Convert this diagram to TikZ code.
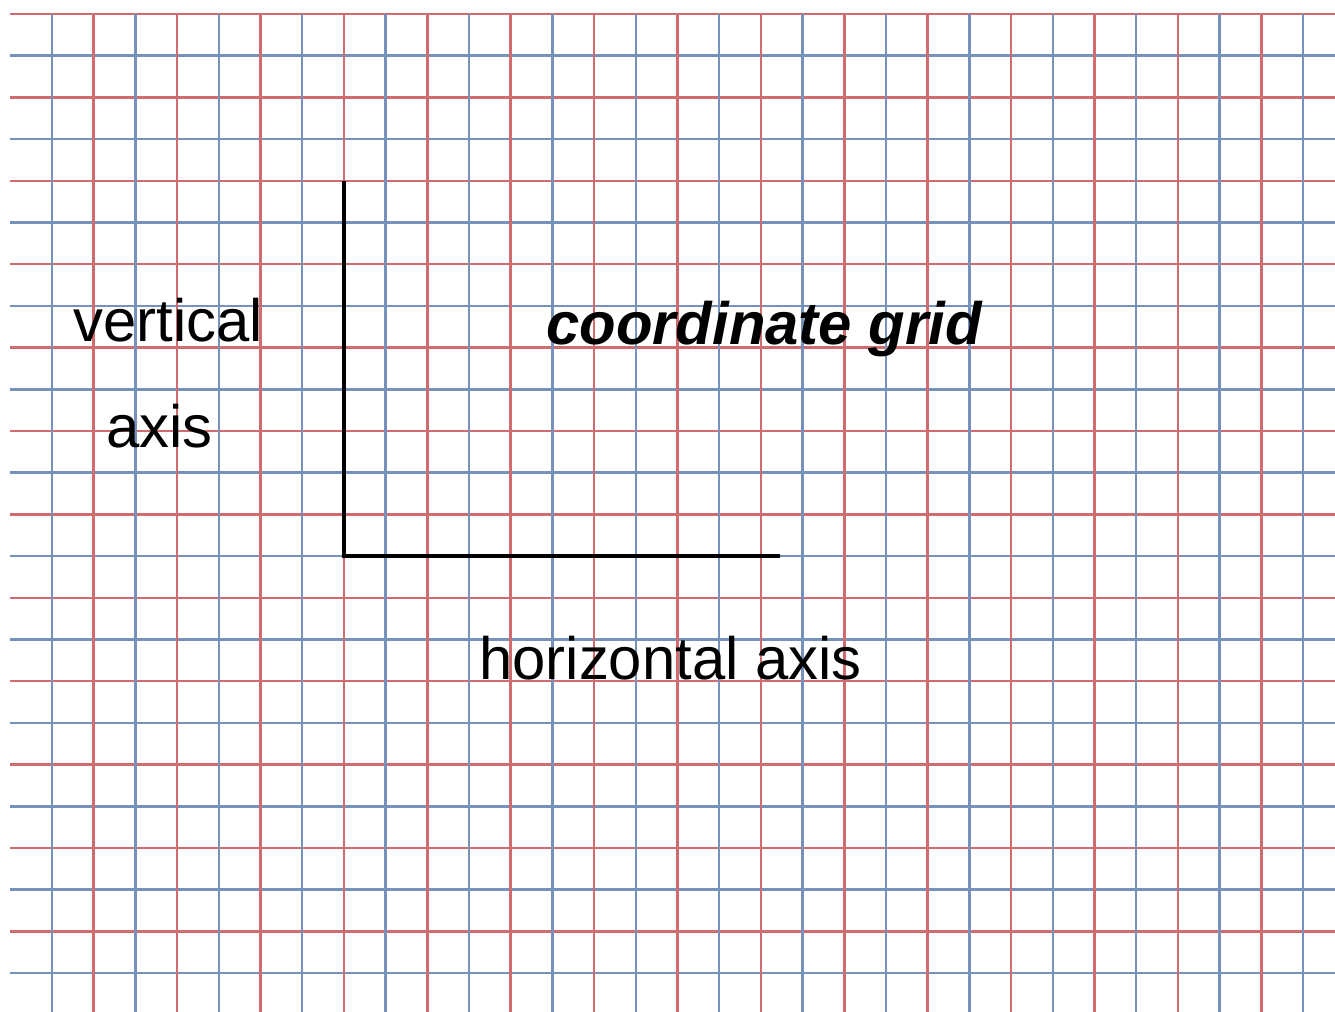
\documentclass[tikz,border=0pt]{standalone}
\usepackage{fontspec}
\setmainfont{Liberation Sans}
\definecolor{gridred}{RGB}{208,108,112}
\definecolor{gridblue}{RGB}{118,146,186}
\begin{document}
\begin{tikzpicture}[x=0.5pt,y=-0.5pt,
  redline/.style={draw=gridred,line width=1.25pt},
  blueline/.style={draw=gridblue,line width=1.25pt},
  axisline/.style={draw=black,line width=2.2pt},
  lbl/.style={inner sep=0pt,anchor=base west,font=\fontsize{29.9pt}{34pt}\selectfont}]
\useasboundingbox[fill=white] (0,0) rectangle (1335,1012);
% horizontal grid lines
\foreach \k in {0,...,23}{
  \pgfmathsetmacro{\yy}{14+41.7*\k}
  \ifodd\k
    \draw[blueline] (10,\yy) -- (1335,\yy);
  \else
    \draw[redline] (10,\yy) -- (1335,\yy);
  \fi
}
% vertical grid lines
\foreach \j in {0,...,30}{
  \pgfmathsetmacro{\xx}{52+41.7*\j}
  \ifodd\j
    \draw[redline] (\xx,14) -- (\xx,1012);
  \else
    \draw[blueline] (\xx,14) -- (\xx,1012);
  \fi
}
% axes
\coordinate (top) at (344,181);
\coordinate (origin) at (344,556);
\coordinate (right) at (780,556);
\draw[axisline] (top) -- (origin) -- (right);
% labels
\node[lbl] (vert) at (73,341) {vertical};
\node[lbl] (vaxis) at (106,447) {axis};
\node[lbl,font=\fontsize{29.9pt}{34pt}\selectfont\bfseries\itshape] (title) at (546,344) {coordinate grid};
\node[lbl] (haxis) at (479,679) {horizontal axis};
\end{tikzpicture}
\end{document}
